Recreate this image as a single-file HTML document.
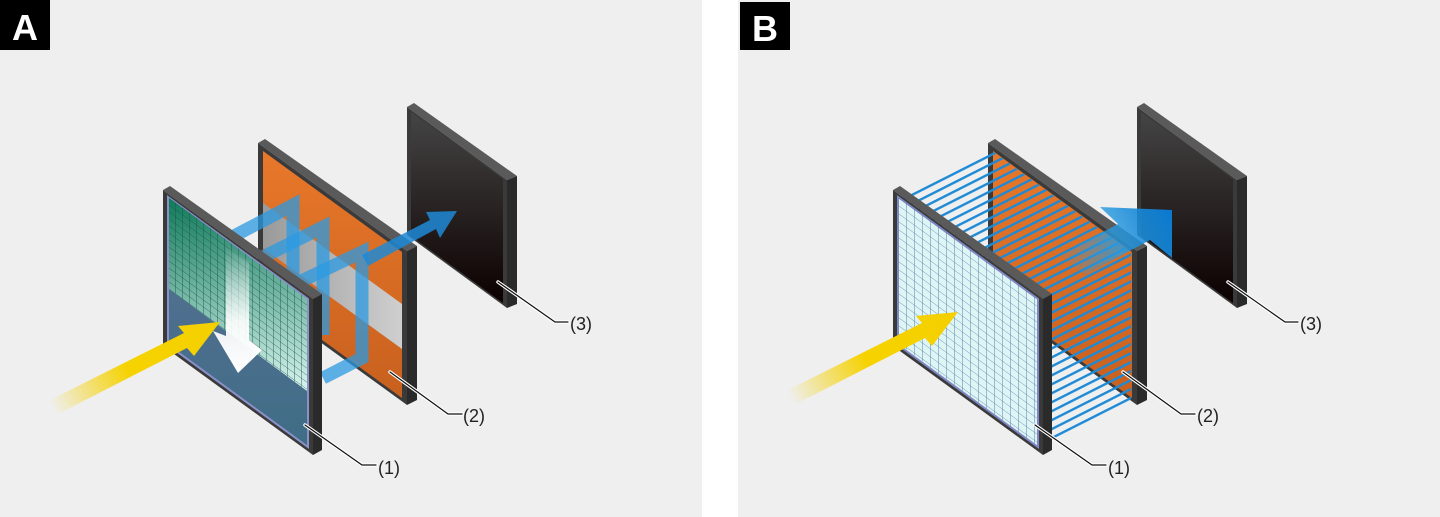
<!DOCTYPE html>
<html><head><meta charset="utf-8"><style>
html,body{margin:0;padding:0;background:#fff;}
svg{display:block;}
text{font-family:"Liberation Sans",sans-serif;}
</style></head><body>
<svg width="1440" height="517" viewBox="0 0 1440 517" xmlns="http://www.w3.org/2000/svg">
<defs>
<pattern id="gridA" width="7" height="7" patternUnits="userSpaceOnUse" patternTransform="translate(168,197) skewY(36)">
<path d="M0 0H7M0 0V7" stroke="#1a4f48" stroke-width="0.8" fill="none"/>
</pattern>
<pattern id="gridB" width="8" height="8" patternUnits="userSpaceOnUse" patternTransform="translate(898,197) skewY(36)">
<path d="M0 0H8M0 0V8" stroke="#3a6fa8" stroke-width="0.8" fill="none"/>
</pattern>
<pattern id="rays" width="40" height="8" patternUnits="userSpaceOnUse" patternTransform="rotate(-26.8)">
<rect x="0" y="0" width="40" height="2.4" fill="#1e8ad6"/>
</pattern>
<linearGradient id="greenG" x1="0" y1="0" x2="0" y2="1">
<stop offset="0" stop-color="#0f7a5a"/><stop offset="1" stop-color="#d8f4ee"/>
</linearGradient>
<linearGradient id="blueFace" x1="0" y1="0" x2="0" y2="1">
<stop offset="0" stop-color="#5a7095"/><stop offset="1" stop-color="#3f6d86"/>
</linearGradient>
<linearGradient id="dark" x1="0" y1="0" x2="0" y2="1">
<stop offset="0" stop-color="#454545"/><stop offset="1" stop-color="#0c0000"/>
</linearGradient>
<linearGradient id="orange" x1="0" y1="0" x2="0" y2="1">
<stop offset="0" stop-color="#e8782a"/><stop offset="1" stop-color="#c8601e"/>
</linearGradient>
<linearGradient id="grayband" x1="0" y1="0" x2="1" y2="0">
<stop offset="0" stop-color="#9a9a9a"/><stop offset="1" stop-color="#cfcfcf"/>
</linearGradient>
<linearGradient id="whiteArr" x1="0" y1="0" x2="0" y2="1">
<stop offset="0" stop-color="#fff" stop-opacity="0"/><stop offset="0.6" stop-color="#fff" stop-opacity="0.9"/><stop offset="1" stop-color="#fff"/>
</linearGradient>
<linearGradient id="yel" x1="52" y1="408" x2="220" y2="322" gradientUnits="userSpaceOnUse">
<stop offset="0" stop-color="#f6d200" stop-opacity="0"/><stop offset="0.45" stop-color="#f6d200"/><stop offset="1" stop-color="#f5d000"/>
</linearGradient>
<linearGradient id="bigBlue" x1="1060" y1="270" x2="1172" y2="215" gradientUnits="userSpaceOnUse">
<stop offset="0" stop-color="#2a9be0" stop-opacity="0"/><stop offset="0.5" stop-color="#2a9be0" stop-opacity="0.8"/><stop offset="1" stop-color="#0a7ad0"/>
</linearGradient>
<clipPath id="hullB"><polygon points="898,197 991,150 1131,252 1131,400 1038,447 898,345"/></clipPath>
</defs>

<rect x="0" y="0" width="702" height="517" fill="#efefef"/>
<rect x="738" y="0" width="702" height="517" fill="#efefef"/>
<rect x="0" y="0" width="50" height="50" fill="#000"/>
<text x="25" y="40" font-size="36" font-weight="bold" fill="#fff" text-anchor="middle">A</text>
<rect x="740" y="2" width="50" height="48" fill="#000"/>
<text x="765" y="41" font-size="36" font-weight="bold" fill="#fff" text-anchor="middle">B</text>

<polygon points="407,107 414,103 517,176 507,180" fill="#5a5a5a"/>
<polygon points="507,180 517,176 517,304 507,308" fill="#2a2a2a"/>
<polygon points="407,107 507,180 507,308 407,235" fill="#3a3a3a"/>
<polygon points="411,112 503,179 503,303 411,236" fill="url(#dark)"/>
<polygon points="258,143 265,139 417,246 407,251" fill="#5a5a5a"/>
<polygon points="407,251 417,246 417,400 407,405" fill="#2a2a2a"/>
<polygon points="258,143 407,251 407,405 258,297" fill="#3a3a3a"/>
<polygon points="263,151 402,252 402,398 263,297" fill="url(#orange)"/>
<polygon points="263,203 402,304 402,349 263,248" fill="url(#grayband)"/>
<g fill="none" stroke="#2b9ae2" stroke-opacity="0.75" stroke-width="13" stroke-linejoin="miter">
<polyline points="232,237 293,205 293,300"/>
<polyline points="263,257 323,227 323,335"/>
<polyline points="297,283 362,252 362,358 323,378"/>
</g>
<polygon points="362,255 430,220 426,212 457,211 440,238 436,229 368,266" fill="#1e8ad6" fill-opacity="0.85"/>
<polygon points="163,190 170,186 322,294 313,299" fill="#5a5a5a"/>
<polygon points="313,299 322,294 322,450 313,455" fill="#2a2a2a"/>
<polygon points="163,190 313,299 313,455 163,346" fill="#3a3a3a"/>
<polygon points="168,197 308,299 308,447 168,345" fill="url(#blueFace)" stroke="#8a90c8" stroke-width="2"/>
<polygon points="169,198 307,299 307,391 169,289" fill="url(#greenG)"/>
<polygon points="169,198 307,299 307,391 169,289" fill="url(#gridA)"/>
<polygon points="226,245 249,262 249,340 262,350 238,373 213,331 226,336" fill="url(#whiteArr)"/>
<polygon points="56,415 187,348 194,356 220,322 178,326 184,333 48,401" fill="url(#yel)"/>

<g fill="none" stroke-linecap="round">
<polyline points="305,425 362,465 376,465" stroke="#fff" stroke-width="3.5"/>
<polyline points="305,425 362,465 376,465" stroke="#111" stroke-width="1.2"/>
<polyline points="390,372 448,414 462,414" stroke="#fff" stroke-width="3.5"/>
<polyline points="390,372 448,414 462,414" stroke="#111" stroke-width="1.2"/>
<polyline points="498,282 555,322 568,322" stroke="#fff" stroke-width="3.5"/>
<polyline points="498,282 555,322 568,322" stroke="#111" stroke-width="1.2"/>
</g>
<text x="378" y="474" font-size="18" fill="#222">(1)</text>
<text x="463" y="422" font-size="18" fill="#222">(2)</text>
<text x="570" y="330" font-size="18" fill="#222">(3)</text>

<polygon points="1137,107 1144,103 1247,176 1237,180" fill="#5a5a5a"/>
<polygon points="1237,180 1247,176 1247,304 1237,308" fill="#2a2a2a"/>
<polygon points="1137,107 1237,180 1237,308 1137,235" fill="#3a3a3a"/>
<polygon points="1141,112 1233,179 1233,303 1141,236" fill="url(#dark)"/>
<polygon points="988,143 995,139 1147,246 1137,251" fill="#5a5a5a"/>
<polygon points="1137,251 1147,246 1147,400 1137,405" fill="#2a2a2a"/>
<polygon points="988,143 1137,251 1137,405 988,297" fill="#3a3a3a"/>
<polygon points="993,151 1132,252 1132,398 993,297" fill="url(#orange)"/>
<rect x="890" y="140" width="250" height="315" fill="url(#rays)" clip-path="url(#hullB)"/>
<polygon points="1060,255 1118,224 1100,207 1172,210 1172,258 1150,240 1085,275" fill="url(#bigBlue)"/>
<polygon points="893,190 900,186 1052,294 1043,299" fill="#5a5a5a"/>
<polygon points="1043,299 1052,294 1052,450 1043,455" fill="#2a2a2a"/>
<polygon points="893,190 1043,299 1043,455 893,346" fill="#3a3a3a"/>
<polygon points="898,197 1038,299 1038,447 898,345" fill="#dff5f4" stroke="#8088c4" stroke-width="2"/>
<polygon points="899,198 1037,299 1037,446 899,344" fill="url(#gridB)"/>
<g transform="translate(738,-10)">
<polygon points="56,415 187,348 194,356 220,322 178,326 184,333 48,401" fill="url(#yel)"/>
</g>
<g fill="none" stroke-linecap="round">
<polyline points="1035,425 1092,465 1106,465" stroke="#fff" stroke-width="3.5"/>
<polyline points="1035,425 1092,465 1106,465" stroke="#111" stroke-width="1.2"/>
<polyline points="1123,372 1181,414 1195,414" stroke="#fff" stroke-width="3.5"/>
<polyline points="1123,372 1181,414 1195,414" stroke="#111" stroke-width="1.2"/>
<polyline points="1228,282 1285,322 1298,322" stroke="#fff" stroke-width="3.5"/>
<polyline points="1228,282 1285,322 1298,322" stroke="#111" stroke-width="1.2"/>
</g>
<text x="1108" y="474" font-size="18" fill="#222">(1)</text>
<text x="1197" y="422" font-size="18" fill="#222">(2)</text>
<text x="1300" y="330" font-size="18" fill="#222">(3)</text>
</svg>
</body></html>
